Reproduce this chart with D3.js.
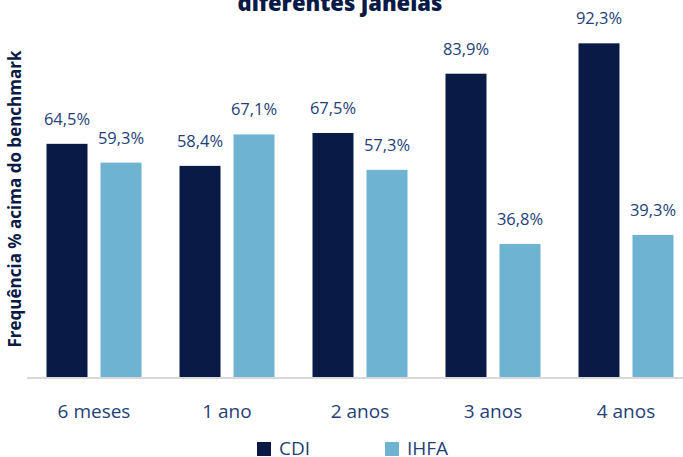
<!DOCTYPE html>
<html>
<head>
<meta charset="utf-8">
<script src="https://cdn.jsdelivr.net/npm/d3@7"></script>
<style>
  body { margin: 0; background: #fff; }
  svg { display: block; font-family: "Open Sans", sans-serif; }
</style>
</head>
<body>
<div id="chart"></div>
<script>
// data
const categories = ["6 meses", "1 ano", "2 anos", "3 anos", "4 anos"];
const seriesNames = ["CDI", "IHFA"];
const cdiValues = [64.5, 58.4, 67.5, 83.9, 92.3];
const ihfaValues = [59.3, 67.1, 57.3, 36.8, 39.3];

const width = 683, height = 457;
const colors = { CDI: "#081a45", IHFA: "#6fb3d2" };
const textColor = "#243f78";
const fmt = v => d3.format(".1f")(v).replace(".", ",") + "%";

const svg = d3.select("#chart").append("svg")
    .attr("width", width)
    .attr("height", height);

const x = d3.scaleBand()
    .domain(categories)
    .range([27.5, 692.5])
    .paddingInner(0.2857)
    .paddingOuter(0.1429);

const xSub = d3.scaleBand()
    .domain(seriesNames)
    .range([0, x.bandwidth()])
    .paddingInner(13 / 54);

const y = d3.scaleLinear()
    .domain([0, 100])
    .range([377, 15.5]);

const rows = categories.map((c, i) => ({
    cat: c,
    values: [{ key: "CDI", v: cdiValues[i] }, { key: "IHFA", v: ihfaValues[i] }]
}));

// title (top line cut off in reference)
svg.append("text")
    .attr("x", 340)
    .attr("y", 10.5)
    .attr("text-anchor", "middle")
    .style("font-weight", "800")
    .style("font-size", "22px")
    .attr("fill", "#081a45")
    .text("diferentes janelas");

// y axis title
svg.append("text")
    .attr("transform", `translate(21,199) rotate(-90)`)
    .attr("text-anchor", "middle")
    .style("font-weight", "bold")
    .style("font-size", "17px")
    .attr("fill", "#081a45")
    .text("Frequência % acima do benchmark");

const groups = svg.selectAll("g.group")
    .data(rows)
    .join("g")
    .classed("group", true)
    .attr("transform", d => `translate(${x(d.cat)},0)`);

groups.selectAll("rect")
    .data(d => d.values)
    .join("rect")
    .attr("x", d => xSub(d.key))
    .attr("y", d => y(d.v))
    .attr("width", xSub.bandwidth())
    .attr("height", d => y(0) - y(d.v))
    .attr("fill", d => colors[d.key]);

groups.selectAll("text.label")
    .data(d => d.values)
    .join("text")
    .classed("label", true)
    .attr("x", d => xSub(d.key) + xSub.bandwidth() / 2)
    .attr("y", d => y(d.v) - 19)
    .attr("text-anchor", "middle")
    .style("font-size", "16.5px")
    .attr("fill", textColor)
    .text(d => fmt(d.v));

// baseline
svg.append("line")
    .attr("x1", 27).attr("x2", width)
    .attr("y1", 378).attr("y2", 378)
    .attr("stroke", "#d9d9d9")
    .attr("stroke-width", 2);

// category labels
svg.selectAll("text.cat")
    .data(categories)
    .join("text")
    .classed("cat", true)
    .attr("x", d => x(d) + x.bandwidth() / 2)
    .attr("y", 418)
    .attr("text-anchor", "middle")
    .style("font-size", "19px")
    .attr("fill", textColor)
    .text(d => d);

// legend
const legendX = [257, 385];
const legend = svg.selectAll("g.legend")
    .data(seriesNames)
    .join("g")
    .classed("legend", true)
    .attr("transform", (d, i) => `translate(${legendX[i]},442)`);

legend.append("rect")
    .attr("width", 14)
    .attr("height", 14)
    .attr("fill", d => colors[d]);

legend.append("text")
    .attr("x", 22)
    .attr("y", 13)
    .style("font-size", "19px")
    .attr("fill", textColor)
    .text(d => d);
</script>
</body>
</html>
